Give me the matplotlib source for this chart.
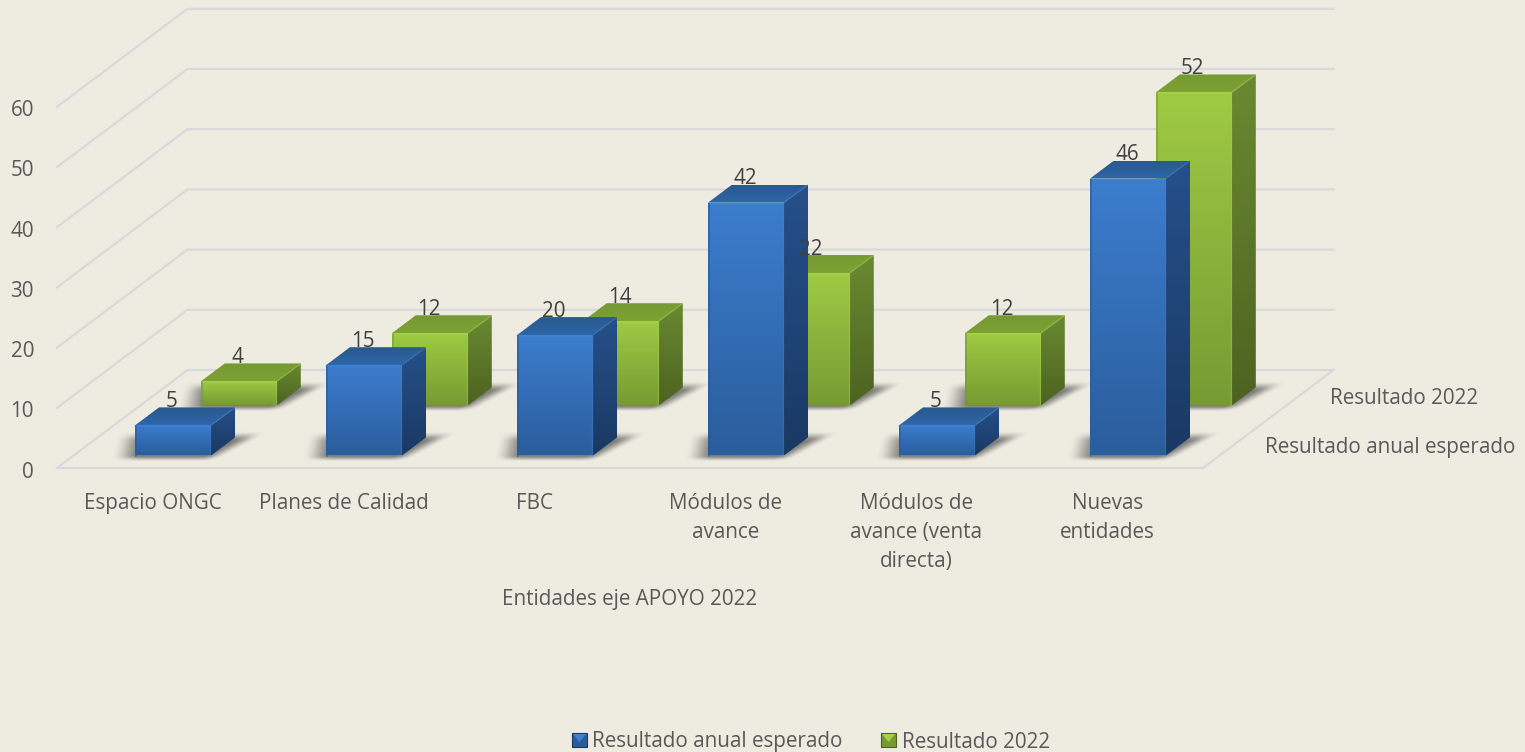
import numpy as np
import matplotlib
matplotlib.use('Agg')
import matplotlib.pyplot as plt
from matplotlib.patches import Polygon, Rectangle
from matplotlib.colors import to_rgb

categories = ['Espacio ONGC', 'Planes de Calidad', 'FBC', 'Módulos de\navance',
              'Módulos de\navance (venta\ndirecta)', 'Nuevas\nentidades']
esperado = [5, 15, 20, 42, 5, 46]
resultado = [4, 12, 14, 22, 12, 52]
y_ticks = [0, 10, 20, 30, 40, 50, 60]
series_names = ['Resultado anual esperado', 'Resultado 2022']
x_title = 'Entidades eje APOYO 2022'

plt.rcParams['font.family'] = ['Open Sans', 'DejaVu Sans']

BG = '#EEECE1'
GRID = '#D9D9DC'
TXT = '#595959'
LBL = '#404040'
FS = 14.9

# geometry of the fake 3d box, in pixels
FLOOR_L, FLOOR_R, FLOOR_Y = 57, 1203, 468
DEPTH_X, DEPTH_Y = 130.5, 98
UNIT = 6.02
CAT_W = (FLOOR_R - FLOOR_L) / len(categories)
BAR_W, BAR_DX, BAR_DY = 76, 24, 18
BAR_X0, BAR_BASE = 135, 455.5
STEP_X, STEP_Y = 65.8, 50

# colours: front top/bottom, side top/bottom, top back/front, highlight
BLUE = ['#3C7DCE', '#2A5D9C', '#26508A', '#1A3963', '#29598F', '#2E66A8', '#3F82D4']
GREEN = ['#9FCB44', '#779A33', '#6A8A31', '#4C6320', '#769A33', '#7DA135', '#A6D24A']

fig = plt.figure(figsize=(15.25, 7.52), dpi=100, facecolor=BG)
ax = fig.add_axes([0, 0, 1, 1])
ax.set_facecolor(BG)
ax.axis('off')


def gradient(pts, c1, c2, z):
    pts = np.array(pts)
    c1, c2 = np.array(to_rgb(c1)), np.array(to_rgb(c2))
    t = np.linspace(0, 1, 128)[:, None, None]
    img = c1[None, None, :] * (1 - t) + c2[None, None, :] * t
    im = ax.imshow(img, extent=[pts[:, 0].min(), pts[:, 0].max(), pts[:, 1].max(), pts[:, 1].min()],
                   aspect='auto', zorder=z, interpolation='bilinear')
    p = Polygon(pts, closed=True, fc='none', ec='none', zorder=z, transform=ax.transData)
    ax.add_patch(p)
    im.set_clip_path(p)


def smooth(a):
    a = np.clip(a, 0, 1)
    return a * a * (3 - 2 * a)


def shadow(x, base, z):
    # soft shadow on the floor, behind the base of the bar
    x0, x1 = int(x - 40), int(x + BAR_W + BAR_DX + 45)
    y0, y1 = int(base - BAR_DY - 14), int(base + 12)
    xx, yy = np.meshgrid(np.arange(x0, x1), np.arange(y0, y1))
    v = (base - yy) / BAR_DY
    left = smooth((xx - (x - 24 + 4 * v)) / 30)
    right = smooth(((x + BAR_W + 14 + 34 * v) - xx) / 22)
    a = left * right * smooth((v + 0.32) / 0.36) * smooth((1.4 - v) / 0.6)
    img = np.zeros(a.shape + (4,))
    img[..., :3] = 0.3
    img[..., 3] = a * 0.7
    ax.imshow(img, extent=[x0, x1, y1, y0], aspect='auto', zorder=z, interpolation='bilinear')


def bar3d(x, base, val, col, z):
    h = val * UNIT
    top = base - h
    gradient([(x + BAR_W, base), (x + BAR_W + BAR_DX, base - BAR_DY),
              (x + BAR_W + BAR_DX, top - BAR_DY), (x + BAR_W, top)][::-1], col[2], col[3], z)
    gradient([(x, top), (x + BAR_DX, top - BAR_DY), (x + BAR_W + BAR_DX, top - BAR_DY), (x + BAR_W, top)],
             col[4], col[5], z + 0.1)
    gradient([(x, base), (x, top), (x + BAR_W, top), (x + BAR_W, base)], col[0], col[1], z + 0.2)
    # bevel highlights
    ax.plot([x + 1, x + BAR_W - 1], [top + 1, top + 1], color=col[6], lw=1.6, alpha=0.8, zorder=z + 0.3)
    ax.plot([x + BAR_W - 1, x + BAR_W - 1], [top + 1, base], color=col[6], lw=1.0, alpha=0.35, zorder=z + 0.3)
    ax.plot([x + 1, x + 1], [top + 1, base], color=col[1], lw=1.2, alpha=0.7, zorder=z + 0.3)
    ax.plot([x + BAR_W + 1, x + BAR_W + BAR_DX - 1], [top - 1, top - BAR_DY + 1], color=col[0], lw=1.2,
            alpha=0.35, zorder=z + 0.3)


# walls and floor
for t in y_ticks:
    yf = FLOOR_Y - t * UNIT
    yb = yf - DEPTH_Y
    ax.plot([FLOOR_L, FLOOR_L + DEPTH_X, FLOOR_R + DEPTH_X], [yf, yb, yb], color=GRID, lw=1.6, zorder=1,
            solid_joinstyle='miter')
    ax.text(34, yf + 4, str(t), ha='right', va='center', fontsize=FS, color=TXT)
ax.plot([FLOOR_L, FLOOR_R, FLOOR_R + DEPTH_X], [FLOOR_Y, FLOOR_Y, FLOOR_Y - DEPTH_Y], color=GRID, lw=1.6, zorder=1)

# back series first, then the front one
z = 2
for s, (vals, col) in reversed(list(enumerate(zip([esperado, resultado], [BLUE, GREEN])))):
    for i, v in enumerate(vals):
        x = BAR_X0 + i * CAT_W + s * STEP_X
        base = BAR_BASE - s * STEP_Y
        shadow(x, base, z)
        bar3d(x, base, v, col, z + 1)
        z += 2

# value labels on top of everything
for s, vals in enumerate([esperado, resultado]):
    for i, v in enumerate(vals):
        x = BAR_X0 + i * CAT_W + s * STEP_X
        base = BAR_BASE - s * STEP_Y
        ax.text(x + 37, base - v * UNIT - BAR_DY - 0.5, str(v), ha='center', va='baseline',
                fontsize=FS, color=LBL, zorder=200)

# category labels
for i, c in enumerate(categories):
    ax.text(FLOOR_L + (i + 0.5) * CAT_W, 493, c, ha='center', va='top', fontsize=FS, color=TXT,
            linespacing=1.5, zorder=200)

ax.text(630, 600, x_title, ha='center', va='center', fontsize=FS, color=TXT)

# depth axis labels
ax.text(1330, 399, series_names[1], ha='left', va='center', fontsize=FS, color=TXT)
ax.text(1265, 448, series_names[0], ha='left', va='center', fontsize=FS, color=TXT)

# legend
for x_box, x_txt, name, col in [(572, 592, series_names[0], BLUE), (881, 902, series_names[1], GREEN)]:
    ax.add_patch(Rectangle((x_box, 733), 15, 14, fc=col[1], ec=col[3], lw=0.8, zorder=5))
    ax.add_patch(Polygon([(x_box + 1, 734), (x_box + 14, 734), (x_box + 7.5, 742)], fc=col[6], ec='none', zorder=6))
    ax.text(x_txt, 742, name, ha='left', va='center', fontsize=FS, color=TXT)

ax.set_xlim(0, 1525)
ax.set_ylim(752, 0)
fig.savefig('out.png', dpi=100, facecolor=BG)
